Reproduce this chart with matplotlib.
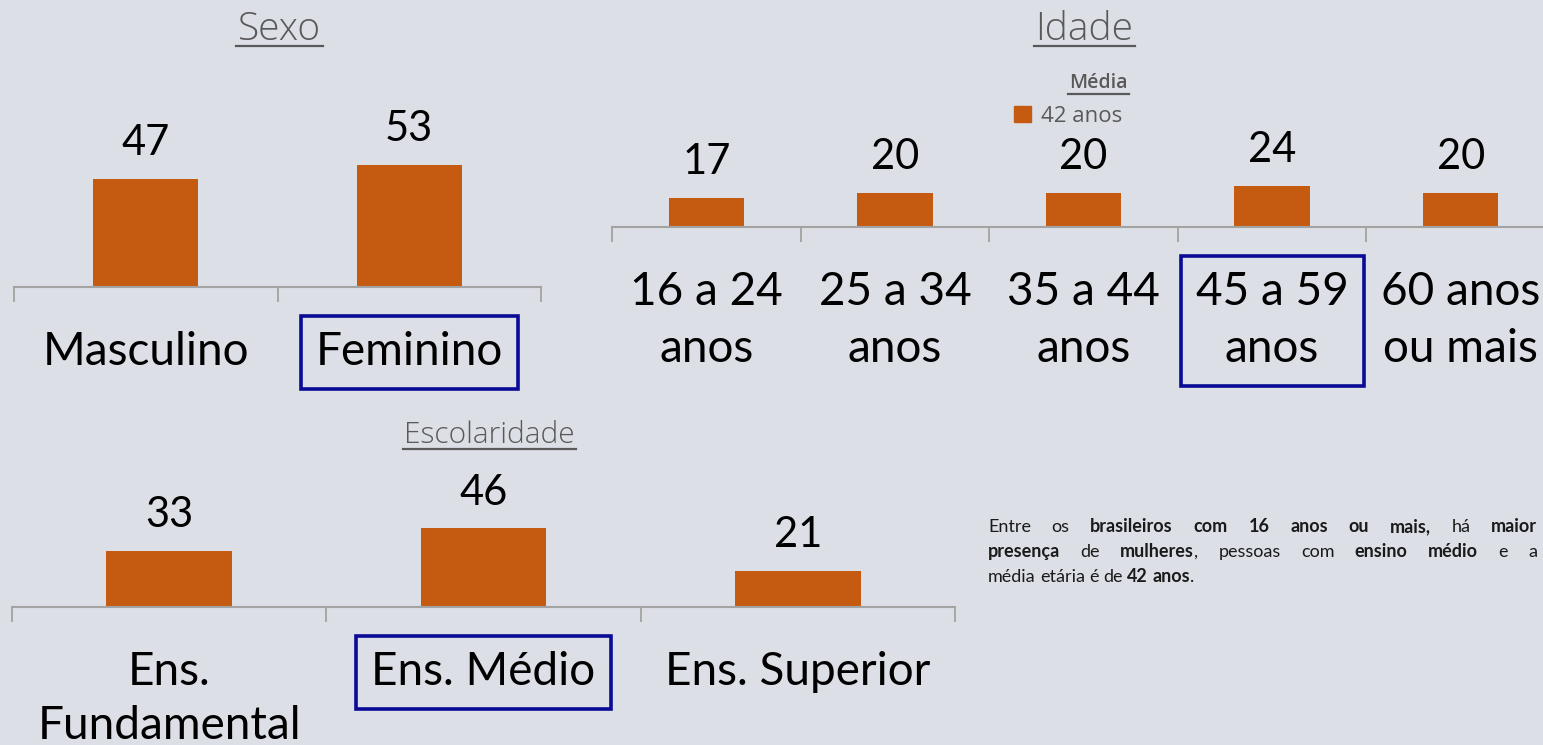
import matplotlib
matplotlib.use('Agg')
import matplotlib.pyplot as plt
from matplotlib.lines import Line2D
from matplotlib.patches import Patch
from matplotlib.transforms import Affine2D

# dados
sexo_cats = ['Masculino', 'Feminino']
sexo_vals = [47, 53]
idade_cats = ['16 a 24\nanos', '25 a 34\nanos', '35 a 44\nanos', '45 a 59\nanos', '60 anos\nou mais']
idade_vals = [17, 20, 20, 24, 20]
esc_cats = ['Ens.\nFundamental', 'Ens. Médio', 'Ens. Superior']
esc_vals = [33, 46, 21]
media_idade = 42

BG = '#dcdfe6'
ORANGE = '#c55a11'
AXIS = '#a3a3a3'
GRAY = '#595959'
BOX = '#0a0a96'
FONT = 'Lato'

W, H = 1543, 745
fig = plt.figure(figsize=(W / 100, H / 100), dpi=100, facecolor=BG)
# coordenadas em pixels a partir do canto superior esquerdo
pxT = Affine2D().scale(1 / W, -1 / H).translate(0, 1) + fig.transFigure


def painel(x0, x1, base, top, scale, cats, vals, destaque, lsp=1.44):
    ax = fig.add_axes([x0 / W, (H - base) / H, (x1 - x0) / W, (base - top) / H])
    ax.set_facecolor('none')
    n = len(cats)
    ax.bar(range(n), vals, width=0.4, color=ORANGE)
    ax.set_xlim(-0.5, n - 0.5)
    ax.set_ylim(0, (base - top) / scale)
    for s in ['top', 'left', 'right']:
        ax.spines[s].set_visible(False)
    ax.spines['bottom'].set_color(AXIS)
    ax.spines['bottom'].set_linewidth(1.5)
    ax.set_yticks([])
    ax.set_xticks([i - 0.5 for i in range(n + 1)])
    ax.set_xticklabels([])
    ax.tick_params(axis='x', which='major', length=11, width=1.3, color=AXIS)
    ax.set_xticks(range(n), minor=True)
    ax.set_xticklabels(cats, minor=True, fontsize=33, family=FONT, color='black')
    ax.tick_params(axis='x', which='minor', length=0, pad=32)
    for i, lbl in enumerate(ax.get_xticklabels(minor=True)):
        lbl.set_linespacing(lsp)
        if i == destaque:
            lbl.set_bbox(dict(boxstyle='square,pad=0.33', fc='none', ec=BOX, lw=2.6))
    for i, v in enumerate(vals):
        ax.annotate(str(v), (i, v), xytext=(0, 17), textcoords='offset points',
                    ha='center', va='baseline', fontsize=30, family=FONT, color='black')
    return ax


ax1 = painel(14, 541, 287, 120, 2.3, sexo_cats, sexo_vals, 1)
ax2 = painel(612, 1555, 227, 140, 1.71, idade_cats, idade_vals, 3)
ax3 = painel(12, 955, 607, 500, 1.71, esc_cats, esc_vals, 1, lsp=1.34)

# títulos sublinhados
titulos = [
    ('Sexo', 279, 40, 28, 'light'),
    ('Idade', 1084, 40, 28, 'light'),
    ('Escolaridade', 489, 443, 21.5, 'light'),
    ('Média', 1098, 88, 14, 'semibold'),
]
tt = []
for txt, x, y, fs, wt in titulos:
    t = fig.text(x, y, txt, transform=pxT, ha='center', va='baseline',
                 fontsize=fs, family='Open Sans', fontweight=wt, color=GRAY)
    tt.append((t, y, fs))

# legenda da média
fig.legend(handles=[Patch(color=ORANGE, label=f'{media_idade} anos')],
           loc='upper left', bbox_to_anchor=(1014 / W, 1 - 106 / H), frameon=False,
           prop={'family': 'Open Sans', 'size': 16}, labelcolor=GRAY,
           handlelength=0.75, handleheight=0.75, handletextpad=0.45,
           borderpad=0, borderaxespad=0)

# texto justificado
para = [
    [[('Entre', False)], [('os', False)], [('brasileiros', True)], [('com', True)],
     [('16', True)], [('anos', True)], [('ou', True)], [('mais,', True)],
     [('há', False)], [('maior', True)]],
    [[('presença', True)], [('de', False)], [('mulheres', True), (',', False)],
     [('pessoas', False)], [('com', False)], [('ensino', True)], [('médio', True)],
     [('e', False)], [('a', False)]],
    [[('média', False)], [('etária', False)], [('é', False)], [('de', False)],
     [('42', True)], [('anos', True), ('.', False)]],
]
PX0, PX1, PY0, PDY, PFS = 988, 1537, 532, 25, 13

fig.canvas.draw()
r = fig.canvas.get_renderer()

for t, y, fs in tt:
    bb = t.get_window_extent(r)
    fig.add_artist(Line2D([bb.x0 - 1, bb.x1 + 2], [y + 6, y + 6], transform=pxT,
                          color=GRAY, lw=1.6))

space = PFS * 100 / 72 * 0.24
for li, line in enumerate(para):
    y = PY0 + li * PDY
    words = []
    for w in line:
        segs = []
        for s, b in w:
            t = fig.text(0, y, s, transform=pxT, va='baseline', ha='left',
                         fontsize=PFS, family=FONT, color='#1a1a1a',
                         fontweight='bold' if b else 'normal')
            segs.append((t, t.get_window_extent(r).width))
        words.append(segs)
    widths = [sum(sw for _, sw in segs) for segs in words]
    if li < len(para) - 1:
        gap = (PX1 - PX0 - sum(widths)) / (len(words) - 1)
    else:
        gap = space
    x = PX0
    for segs, ww in zip(words, widths):
        xx = x
        for t, sw in segs:
            t.set_x(xx)
            xx += sw
        x += ww + gap

fig.savefig('out.png', dpi=100, facecolor=BG)
